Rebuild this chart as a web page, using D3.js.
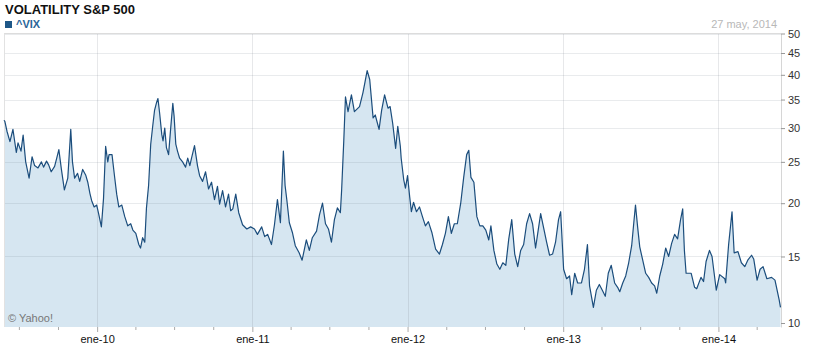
<!DOCTYPE html>
<html><head><meta charset="utf-8">
<script src="https://cdn.jsdelivr.net/npm/d3@7"></script>
<style>
body{margin:0;background:#fff}
svg{display:block;font-family:"Liberation Sans",Arial,sans-serif}
</style>
</head><body>
<svg id="c" width="817" height="352"></svg>
<script>
const chartTitle = "VOLATILITY S&P 500";
const seriesName = "^VIX";
const dateLabel = "27 may, 2014";
const creditLabel = "© Yahoo!";
const yTickValues = [10, 15, 20, 25, 30, 35, 40, 45, 50];
const xTickDates = ["2010-01-01", "2011-01-01", "2012-01-01", "2013-01-01", "2014-01-01"];
const xTickLabels = ["ene-10", "ene-11", "ene-12", "ene-13", "ene-14"];
const dateRange = ["2009-05-27", "2014-05-27"];

const dates = [
  // 2009
  "2009-05-27","2009-05-29","2009-06-03","2009-06-10","2009-06-17","2009-06-25","2009-06-29","2009-07-06","2009-07-11","2009-07-17",
  "2009-07-25","2009-08-01","2009-08-07","2009-08-15","2009-08-23","2009-08-28","2009-09-04","2009-09-09","2009-09-15","2009-09-23",
  "2009-09-28","2009-10-03","2009-10-09","2009-10-16","2009-10-24","2009-10-31","2009-11-04","2009-11-09","2009-11-16","2009-11-21",
  "2009-11-28","2009-12-05","2009-12-10","2009-12-15","2009-12-19","2009-12-25","2009-12-31",
  // 2010
  "2010-01-05","2010-01-11","2010-01-16","2010-01-21","2010-01-26","2010-01-29","2010-02-05","2010-02-11","2010-02-16","2010-02-21",
  "2010-02-28","2010-03-07","2010-03-14","2010-03-21","2010-03-26","2010-04-02","2010-04-09","2010-04-13","2010-04-18","2010-04-23",
  "2010-04-27","2010-05-02","2010-05-07","2010-05-12","2010-05-16","2010-05-21","2010-05-24","2010-05-28","2010-06-02","2010-06-05",
  "2010-06-09","2010-06-13","2010-06-18","2010-06-23","2010-06-28","2010-07-01","2010-07-05","2010-07-09","2010-07-14","2010-07-21",
  "2010-07-28","2010-08-02","2010-08-07","2010-08-11","2010-08-18","2010-08-25","2010-08-30","2010-09-06","2010-09-13","2010-09-20",
  "2010-09-27","2010-10-04","2010-10-11","2010-10-16","2010-10-23","2010-10-30","2010-11-06","2010-11-11","2010-11-16","2010-11-23",
  "2010-11-30","2010-12-09","2010-12-19","2010-12-28",
  // 2011
  "2011-01-06","2011-01-13","2011-01-23","2011-01-30","2011-02-06","2011-02-15","2011-02-22","2011-03-01","2011-03-08","2011-03-15",
  "2011-03-19","2011-03-23","2011-03-29","2011-04-05","2011-04-12","2011-04-21","2011-04-28","2011-05-08","2011-05-15","2011-05-22",
  "2011-06-01","2011-06-08","2011-06-15","2011-06-22","2011-06-29","2011-07-06","2011-07-13","2011-07-20","2011-07-27","2011-07-30",
  "2011-08-04","2011-08-08","2011-08-14","2011-08-22","2011-08-29","2011-09-10","2011-09-18","2011-09-23","2011-09-28","2011-10-04",
  "2011-10-12","2011-10-17","2011-10-26","2011-11-01","2011-11-08","2011-11-16","2011-11-21","2011-11-27","2011-12-04","2011-12-09",
  "2011-12-15","2011-12-17","2011-12-23","2011-12-27",
  // 2012
  "2012-01-01","2012-01-06","2012-01-10","2012-01-15","2012-01-22","2012-01-29","2012-02-05","2012-02-12","2012-02-19","2012-02-27",
  "2012-03-07","2012-03-16","2012-03-23","2012-03-30","2012-04-06","2012-04-13","2012-04-20","2012-04-27","2012-05-05","2012-05-12",
  "2012-05-19","2012-05-24","2012-05-29","2012-06-05","2012-06-12","2012-06-19","2012-06-26","2012-07-03","2012-07-10","2012-07-15",
  "2012-07-22","2012-07-29","2012-08-05","2012-08-12","2012-08-19","2012-08-26","2012-09-02","2012-09-09","2012-09-16","2012-09-23",
  "2012-09-30","2012-10-07","2012-10-14","2012-10-21","2012-10-28","2012-11-04","2012-11-09","2012-11-16","2012-11-23","2012-11-30",
  "2012-12-07","2012-12-14","2012-12-21","2012-12-26",
  // 2013
  "2013-01-02","2013-01-09","2013-01-16","2013-01-21","2013-01-28","2013-02-04","2013-02-13","2013-02-20","2013-02-27","2013-03-04",
  "2013-03-13","2013-03-20","2013-03-27","2013-04-03","2013-04-10","2013-04-17","2013-04-24","2013-05-02","2013-05-09","2013-05-14",
  "2013-05-21","2013-05-28","2013-06-04","2013-06-11","2013-06-16","2013-06-20","2013-06-25","2013-06-30","2013-07-07","2013-07-14",
  "2013-07-21","2013-07-28","2013-08-04","2013-08-09","2013-08-16","2013-08-23","2013-08-30","2013-09-06","2013-09-13","2013-09-20",
  "2013-09-27","2013-10-04","2013-10-09","2013-10-13","2013-10-17","2013-10-29","2013-11-06","2013-11-11","2013-11-21","2013-11-27",
  "2013-12-03","2013-12-11","2013-12-17","2013-12-27",
  // 2014
  "2014-01-04","2014-01-16","2014-01-18","2014-01-25","2014-02-02","2014-02-07","2014-02-16","2014-02-24","2014-03-04","2014-03-11",
  "2014-03-20","2014-03-25","2014-04-02","2014-04-09","2014-04-16","2014-04-25","2014-05-06","2014-05-14","2014-05-24","2014-05-27"
];

const vixValues = [
  // 2009
  31.3,31.1,29.5,27.9,29.8,26.3,27.7,26.5,28.9,25.0,
  22.9,25.7,24.5,24.2,25.0,24.3,25.1,24.6,23.7,24.4,
  25.5,26.7,24.0,21.5,22.9,29.8,25.0,22.9,23.5,22.5,
  24.0,23.3,22.4,21.1,20.3,19.6,19.8,
  // 2010
  18.8,17.6,20.5,27.2,25.0,26.0,26.0,23.1,21.0,19.6,
  19.8,18.6,17.7,17.9,17.3,17.0,16.0,15.7,16.6,16.2,
  19.5,22.0,27.5,30.5,33.0,34.5,35.2,32.5,29.0,28.0,
  30.0,27.0,26.0,30.0,34.3,32.0,27.5,26.5,25.5,25.0,
  24.3,25.5,24.5,25.5,27.3,24.5,23.2,22.5,23.7,21.6,
  22.4,20.4,21.9,19.9,21.4,19.6,21.0,19.2,19.4,21.0,
  19.0,17.8,17.4,17.6,
  // 2011
  17.4,16.9,17.6,16.7,16.9,16.0,17.8,20.4,18.0,26.5,
  22.0,20.4,18.0,17.1,15.9,15.3,14.7,16.4,15.5,16.6,
  17.2,18.8,20.0,17.9,17.4,16.2,18.3,19.5,19.0,21.5,
  28.0,35.5,32.8,35.9,32.8,33.7,36.3,38.5,40.9,39.0,
  31.7,32.2,29.8,33.0,35.9,33.4,33.7,30.8,26.9,30.3,
  27.2,25.5,22.7,21.7,
  // 2012
  23.2,20.7,19.1,20.1,19.1,19.6,18.6,17.7,18.1,17.1,
  15.6,15.2,16.0,17.0,18.6,17.0,17.9,17.9,20.0,23.0,
  26.0,26.6,23.0,22.4,18.6,17.7,17.7,17.3,16.4,17.7,
  15.5,14.4,14.0,14.5,14.3,16.5,18.3,15.2,14.2,15.5,
  16.0,17.9,18.9,17.9,15.7,17.5,18.9,17.5,16.2,15.1,
  15.2,16.2,18.3,19.1,
  // 2013
  14.0,13.3,13.5,12.2,13.7,13.0,13.0,14.0,16.0,12.8,
  11.4,12.5,12.9,12.5,12.1,13.7,14.3,13.0,12.7,12.4,
  13.0,13.5,14.5,15.9,18.0,19.8,17.6,15.8,14.7,13.7,
  13.4,13.0,12.8,12.3,13.5,14.4,15.7,15.0,16.1,16.9,
  16.5,18.3,19.4,15.5,13.7,13.7,12.7,12.6,13.4,13.1,
  14.6,15.5,15.0,12.5,
  // 2014
  13.6,13.3,13.0,16.0,19.1,15.3,15.4,14.5,14.2,14.7,
  15.1,14.8,13.2,14.0,14.2,13.3,13.4,13.2,11.85,11.4
];

const parse = d3.timeParse("%Y-%m-%d");
const data = dates.map((d, i) => ({ date: parse(d), v: vixValues[i] }));

const svg = d3.select("#c");
const pLeft = 4, pRight = 781, pTop = 33.5, pBottom = 327;

const x = d3.scaleTime().domain(dateRange.map(parse)).range([pLeft, 780.5]);
const y = d3.scaleLog().domain([10.25, 50]).range([pBottom, pTop]).clamp(true);

const area = d3.area().x(d => x(d.date)).y0(pBottom).y1(d => y(d.v));
const line = d3.line().x(d => x(d.date)).y(d => y(d.v));

svg.append("path").datum(data).attr("d", area).attr("fill", "#d6e6f1");

// gridlines over the fill, translucent
const grid = svg.append("g");
grid.selectAll("line.h").data(yTickValues.filter(v => v !== 10)).join("line")
  .attr("x1", pLeft).attr("x2", pRight)
  .attr("y1", d => Math.round(y(d)) + 0.5).attr("y2", d => Math.round(y(d)) + 0.5)
  .attr("stroke", "rgba(120,130,140,0.16)").attr("stroke-width", 1);
grid.selectAll("line.v").data(xTickDates.map(parse)).join("line")
  .attr("x1", d => Math.round(x(d)) + 0.5).attr("x2", d => Math.round(x(d)) + 0.5)
  .attr("y1", pTop).attr("y2", pBottom)
  .attr("stroke", "rgba(120,130,140,0.18)").attr("stroke-width", 1);

// frame: top + left
svg.append("line").attr("x1", pLeft).attr("x2", pRight).attr("y1", pTop).attr("y2", pTop)
  .attr("stroke", "#dcdcdc");
svg.append("line").attr("x1", pLeft + 0.5).attr("x2", pLeft + 0.5).attr("y1", pTop).attr("y2", pBottom)
  .attr("stroke", "#e2e2e2");

svg.append("path").datum(data).attr("d", line)
  .attr("fill", "none").attr("stroke", "#1b4d7c").attr("stroke-width", 1.2)
  .attr("stroke-linejoin", "round");

// right axis
const yAxis = d3.axisRight(y).tickValues(yTickValues).tickFormat(d3.format("d"))
  .tickSize(4).tickSizeOuter(0).tickPadding(3);
const ya = svg.append("g").attr("transform", `translate(${pRight},0)`).call(yAxis);
ya.select(".domain").attr("stroke", "#d6d6d6");
ya.selectAll(".tick line").attr("stroke", "#999");
ya.selectAll(".tick text").attr("fill", "#333").style("font-size", "11px")
  .style("font-family", '"Liberation Sans",Arial,sans-serif');
ya.selectAll(".tick").filter(d => d === 10).attr("transform", `translate(0,${pBottom - 3.5})`);

// bottom axis: minor quarterly ticks
const qStarts = d3.timeMonth.range(parse(dateRange[0]), parse(dateRange[1]))
  .filter(d => d.getMonth() % 3 === 0 && d.getMonth() !== 0);
const xMinor = d3.axisBottom(x).tickValues(qStarts).tickSize(3).tickFormat("");
const xm = svg.append("g").attr("transform", `translate(0,${pBottom})`).call(xMinor);
xm.select(".domain").remove();
xm.selectAll(".tick line").attr("stroke", "#aaa");

const xMajor = d3.axisBottom(x).tickValues(xTickDates.map(parse))
  .tickFormat((d, i) => xTickLabels[i]).tickSize(5).tickPadding(3);
const xa = svg.append("g").attr("transform", `translate(0,${pBottom})`).call(xMajor);
xa.select(".domain").remove();
xa.selectAll(".tick line").attr("stroke", "#aaa");
xa.selectAll(".tick text").attr("fill", "#111").style("font-size", "11px")
  .style("font-family", '"Liberation Sans",Arial,sans-serif');

// texts
svg.append("text").attr("x", 5).attr("y", 14).text(chartTitle)
  .attr("font-weight", "bold").attr("font-size", 13).attr("fill", "#111");
svg.append("rect").attr("x", 5).attr("y", 21).attr("width", 7).attr("height", 7).attr("fill", "#1e5787");
svg.append("text").attr("x", 16).attr("y", 28).text(seriesName)
  .attr("font-weight", "bold").attr("font-size", 11).attr("fill", "#2a6598");
svg.append("text").attr("x", 777).attr("y", 28).attr("text-anchor", "end").text(dateLabel)
  .attr("font-size", 11).attr("fill", "#b8b8b8");
svg.append("text").attr("x", 8).attr("y", 322).text(creditLabel)
  .attr("font-size", 11).attr("fill", "#777");
</script>
</body></html>
